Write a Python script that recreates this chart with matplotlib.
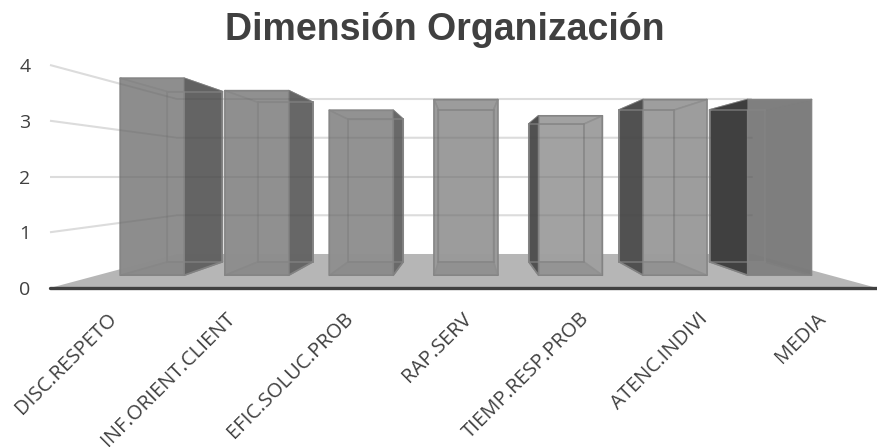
#!/usr/bin/env python3
"""Dimension Organizacion - fake 3D column chart drawn on plain 2D axes."""
import matplotlib
matplotlib.use('Agg')
import matplotlib.pyplot as plt
from matplotlib.patches import Polygon
from matplotlib.transforms import ScaledTranslation

categories = ['DISC.RESPETO', 'INF.ORIENT.CLIENT', 'EFIC.SOLUC.PROB', 'RAP.SERV',
              'TIEMP.RESP.PROB', 'ATENC.INDIVI', 'MEDIA']
values = [3.99, 3.74, 3.34, 3.56, 3.23, 3.56, 3.56]
y_ticks = [0, 1, 2, 3, 4]

front_colors = ['#8c8c8c', '#8e8e8e', '#909090', '#9a9a9a', '#a0a0a0', '#9c9c9c', '#7c7c7c']
side_colors = ['#626262', '#656565', '#686868', '#9a9a9a', '#4e4e4e', '#4e4e4e', '#3e3e3e']

# perspective: depth scale factors and vanishing point, in data units
VX, VY = 3.525, 2.0
S_FRONT, S_BACK, S_WALL = 0.885, 0.765, 0.695
BAR_W = 0.61


def proj(x, v, s):
    return (VX + s * (x - VX), VY + s * (v - VY))


fig = plt.figure(figsize=(8.77, 4.47), dpi=100)
ax = fig.add_axes([50 / 877, 1 - 288 / 447, 827 / 877, 223 / 447])
ax.set_xlim(0, 7)
ax.set_ylim(0, 4)
for sp in ax.spines.values():
    sp.set_visible(False)

# floor
floor = [proj(0, 0, 1), proj(7, 0, 1), proj(7, 0, S_WALL), proj(0, 0, S_WALL)]
ax.add_patch(Polygon(floor, closed=True, fc='#b6b6b6', ec='none', zorder=1))

# gridlines: side wall then back wall
grid_paths = []
for t in y_ticks[1:]:
    pts = [proj(0, t, 1), proj(0, t, S_WALL), proj(7, t, S_WALL)]
    grid_paths.append(([p[0] for p in pts], [p[1] for p in pts]))
    ax.plot(grid_paths[-1][0], grid_paths[-1][1], color='#dcdcdc', lw=1.5,
            zorder=2, clip_on=False, solid_capstyle='butt')

# columns
for i, val in enumerate(values):
    cx = i + 0.52
    x0, x1 = cx - BAR_W / 2, cx + BAR_W / 2
    fc, sc = front_colors[i], side_colors[i]
    z = 3 + i * 0.1
    edge = dict(ec='#838383', lw=1.2, joinstyle='round', clip_on=False)

    fbl, fbr = proj(x0, 0, S_FRONT), proj(x1, 0, S_FRONT)
    ftl, ftr = proj(x0, val, S_FRONT), proj(x1, val, S_FRONT)
    bbl, bbr = proj(x0, 0, S_BACK), proj(x1, 0, S_BACK)
    btl, btr = proj(x0, val, S_BACK), proj(x1, val, S_BACK)
    left_out = btl[0] < ftl[0]
    right_out = btr[0] > ftr[0]

    # back, floor of the box, top and the two side walls
    ax.add_patch(Polygon([bbl, bbr, btr, btl], fc=fc, alpha=0.95, zorder=z, **edge))
    ax.add_patch(Polygon([fbl, fbr, bbr, bbl], fc='#858585', alpha=0.9, zorder=z, **edge))
    ax.add_patch(Polygon([ftl, ftr, btr, btl], fc=fc, alpha=0.95, zorder=z, **edge))
    ax.add_patch(Polygon([fbl, ftl, btl, bbl], fc=sc if left_out else fc, alpha=0.96,
                         zorder=z, **edge))
    ax.add_patch(Polygon([fbr, ftr, btr, bbr], fc=sc if right_out else fc, alpha=0.96,
                         zorder=z, **edge))
    # the top of the exposed side reads as dark too
    if right_out:
        ax.add_patch(Polygon([ftr, btr, (ftr[0], btr[1])], fc=sc, ec='none', zorder=z + 0.01,
                             clip_on=False))
    if left_out:
        ax.add_patch(Polygon([ftl, btl, (ftl[0], btl[1])], fc=sc, ec='none', zorder=z + 0.01,
                             clip_on=False))

    # see-through front
    front = Polygon([fbl, fbr, ftr, ftl], fc=fc, alpha=0.5, zorder=z + 0.05, **edge)
    ax.add_patch(front)

    # inner edges show through the front, softly
    for p, q in [(bbl, btl), (bbr, btr), (btl, btr), (bbl, bbr)]:
        ax.plot([p[0], q[0]], [p[1], q[1]], color='#858585', lw=1.2, alpha=0.7,
                zorder=z + 0.06, clip_on=False)

    # gridlines faintly visible through the glass
    hulls = [front]
    if right_out:
        hulls.append(Polygon([fbr, ftr, btr, bbr], fc='none', ec='none', transform=ax.transData))
    if left_out:
        hulls.append(Polygon([fbl, ftl, btl, bbl], fc='none', ec='none', transform=ax.transData))
    for hull in hulls:
        for gx, gy in grid_paths:
            ln, = ax.plot(gx, gy, color='#404040', lw=1.3, alpha=0.11, zorder=z + 0.07)
            ln.set_clip_path(hull)

# baseline
ax.plot([0, 7], [0, 0], color='#404040', lw=2.4, zorder=6, clip_on=False,
        solid_capstyle='round')

ax.set_yticks(y_ticks)
ax.set_yticklabels([str(t) for t in y_ticks], fontsize=14, color='#404040', family='Open Sans')
ax.set_xticks([i + 0.5 for i in range(len(categories))])
ax.set_xticklabels(categories, rotation=45, ha='right', va='top', rotation_mode='anchor',
                   fontsize=14.6, color='#404040', family='Open Sans')
ax.tick_params(axis='both', length=0)
ax.tick_params(axis='y', pad=14)
ax.tick_params(axis='x', pad=15)
shift = ScaledTranslation(-2 / 100, 0, fig.dpi_scale_trans)
for lab in ax.get_xticklabels():
    lab.set_transform(lab.get_transform() + shift)

fig.text(444.5 / 877, 1 - 30 / 447, 'Dimensión Organización', ha='center', va='center',
         fontsize=27, fontweight='bold', color='#404040', family='Liberation Sans')

fig.savefig('out.png', dpi=100)
plt.close(fig)
